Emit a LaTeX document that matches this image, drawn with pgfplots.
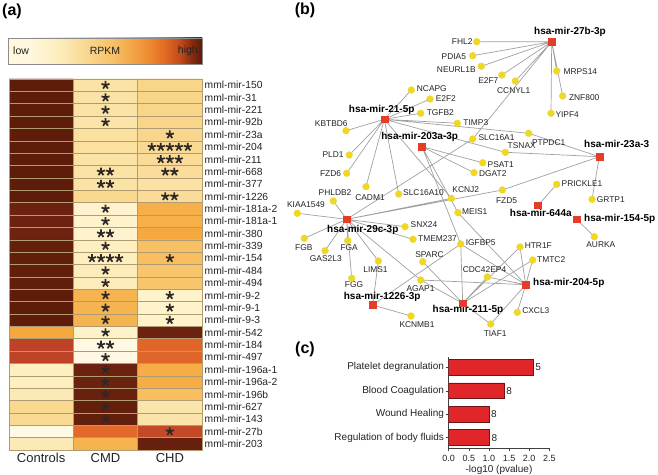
\documentclass[border=0pt]{standalone}
\usepackage{fontspec}
\setmainfont{Liberation Sans}
\usepackage{pgfplots}
\pgfplotsset{compat=1.18}
\usetikzlibrary{plotmarks}

\definecolor{edgegray}{RGB}{160,160,160}
\definecolor{geneyel}{RGB}{238,216,38}
\definecolor{mirred}{RGB}{226,62,40}
\definecolor{barred}{RGB}{224,38,40}
\definecolor{bardark}{RGB}{110,20,20}
\definecolor{gridtan}{RGB}{176,156,112}
\definecolor{stargray}{RGB}{45,40,38}
\definecolor{txt}{RGB}{35,35,35}
\definecolor{sA}{RGB}{255,248,222}
\definecolor{sB}{RGB}{253,236,186}
\definecolor{sC}{RGB}{249,212,138}
\definecolor{sD}{RGB}{247,196,106}
\definecolor{sE}{RGB}{244,168,74}
\definecolor{sF}{RGB}{238,136,48}
\definecolor{sG}{RGB}{224,106,34}
\definecolor{sH}{RGB}{192,74,26}
\definecolor{sI}{RGB}{142,48,16}
\definecolor{sJ}{RGB}{90,26,8}

\newcommand\gf{\fontsize{8.4}{9}\selectfont}
\newcommand\mf{\fontsize{10}{11}\selectfont\bfseries}
\tikzset{gl/.style={anchor=center, inner sep=0pt, text=txt, font=\gf},
         ml/.style={anchor=center, inner sep=0pt, text=black, font=\mf}}

\begin{document}
\begin{tikzpicture}
\useasboundingbox (0pt,0pt) rectangle (658pt,474pt);

% panel labels
\node[font=\fontsize{16}{16}\selectfont\bfseries, inner sep=0pt] at (12pt,463pt) {(a)};
\node[font=\fontsize{16}{16}\selectfont\bfseries, inner sep=0pt] at (305pt,464pt) {(b)};
\node[font=\fontsize{16}{16}\selectfont\bfseries, inner sep=0pt] at (305pt,125pt) {(c)};

% colour key (piecewise linear gradient)
\fill[sA] (8pt,410pt) rectangle (30.3pt,436pt);
\shade[left color=sA, right color=sB] (30pt,410pt) rectangle (60.3pt,436pt);
\shade[left color=sB, right color=sC] (60pt,410pt) rectangle (90.3pt,436pt);
\shade[left color=sC, right color=sD] (90pt,410pt) rectangle (110.3pt,436pt);
\shade[left color=sD, right color=sE] (110pt,410pt) rectangle (130.3pt,436pt);
\shade[left color=sE, right color=sF] (130pt,410pt) rectangle (150.3pt,436pt);
\shade[left color=sF, right color=sG] (150pt,410pt) rectangle (165.3pt,436pt);
\shade[left color=sG, right color=sH] (165pt,410pt) rectangle (180.3pt,436pt);
\shade[left color=sH, right color=sI] (180pt,410pt) rectangle (190.3pt,436pt);
\shade[left color=sI, right color=sJ] (190pt,410pt) rectangle (202pt,436pt);
\draw[black!45, line width=0.5pt] (8pt,410pt) rectangle (202pt,436pt);
\node[anchor=west, inner sep=0pt, text=txt, font=\fontsize{10.5}{11}\selectfont] at (13pt,423pt) {low};
\node[anchor=center, inner sep=0pt, text=txt, font=\fontsize{10.5}{11}\selectfont] at (105pt,423pt) {RPKM};
\node[anchor=east, inner sep=0pt, text=txt, font=\fontsize{10.5}{11}\selectfont] at (198pt,423pt) {high};

% ---------------- heatmap (a) ----------------
\begin{axis}[
  at={(9pt,24pt)}, anchor=south west,
  width=193pt, height=371pt, scale only axis,
  xmin=-0.5, xmax=2.5, ymin=-29.5, ymax=0.5,
  colormap={rpkmmap}{rgb255(0cm)=(255,250,235); rgb255(12cm)=(254,242,200); rgb255(25cm)=(251,227,166); rgb255(35cm)=(249,213,138); rgb255(45cm)=(248,192,100); rgb255(55cm)=(245,168,62); rgb255(65cm)=(235,128,45); rgb255(72cm)=(222,96,40); rgb255(82cm)=(190,67,38); rgb255(92cm)=(112,36,18); rgb255(100cm)=(94,29,10)},
  point meta min=0, point meta max=1,
  xtick={0,1,2}, xticklabels={Controls,CMD,CHD},
  ytick={0,-1,...,-29},
  yticklabels={mml-mir-150,mml-mir-31,mml-mir-221,mml-mir-92b,mml-mir-23a,mml-mir-204,mml-mir-211,mml-mir-668,mml-mir-377,mml-mir-1226,mml-mir-181a-2,mml-mir-181a-1,mml-mir-380,mml-mir-339,mml-mir-154,mml-mir-484,mml-mir-494,mml-mir-9-2,mml-mir-9-1,mml-mir-9-3,mml-mir-542,mml-mir-184,mml-mir-497,mml-mir-196a-1,mml-mir-196a-2,mml-mir-196b,mml-mir-627,mml-mir-143,mml-mir-27b,mml-mir-203},
  yticklabel pos=right,
  major tick length=0pt, minor tick length=0pt,
  minor xtick={0.5,1.5}, minor ytick={-0.5,-1.5,...,-28.5},
  xminorgrids, yminorgrids,
  minor grid style={gridtan, line width=0.5pt},
  axis line style={gridtan, line width=0.6pt},
  axis on top,
  xticklabel style={font=\fontsize{13}{13}\selectfont, text=txt},
  yticklabel style={font=\fontsize{10.3}{11}\selectfont, text=txt, inner sep=2.5pt},
]
\addplot[matrix plot*, mesh/cols=3, point meta=explicit] table[meta=v] {
x y v
0 0 1.00
1 0 0.25
2 0 0.35
0 -1 1.00
1 -1 0.25
2 -1 0.35
0 -2 1.00
1 -2 0.25
2 -2 0.35
0 -3 1.00
1 -3 0.24
2 -3 0.35
0 -4 1.00
1 -4 0.27
2 -4 0.34
0 -5 1.00
1 -5 0.27
2 -5 0.32
0 -6 1.00
1 -6 0.25
2 -6 0.30
0 -7 1.00
1 -7 0.25
2 -7 0.29
0 -8 1.00
1 -8 0.25
2 -8 0.26
0 -9 1.00
1 -9 0.33
2 -9 0.30
0 -10 0.94
1 -10 0.10
2 -10 0.52
0 -11 0.94
1 -11 0.11
2 -11 0.52
0 -12 0.93
1 -12 0.10
2 -12 0.55
0 -13 0.97
1 -13 0.15
2 -13 0.45
0 -14 0.99
1 -14 0.15
2 -14 0.46
0 -15 0.99
1 -15 0.17
2 -15 0.43
0 -16 0.99
1 -16 0.17
2 -16 0.43
0 -17 1.00
1 -17 0.50
2 -17 0.11
0 -18 1.00
1 -18 0.50
2 -18 0.11
0 -19 1.00
1 -19 0.50
2 -19 0.11
0 -20 0.55
1 -20 0.12
2 -20 0.94
0 -21 0.82
1 -21 0.03
2 -21 0.71
0 -22 0.82
1 -22 0.03
2 -22 0.71
0 -23 0.15
1 -23 0.94
2 -23 0.53
0 -24 0.15
1 -24 0.94
2 -24 0.53
0 -25 0.19
1 -25 0.95
2 -25 0.46
0 -26 0.33
1 -26 0.98
2 -26 0.23
0 -27 0.32
1 -27 0.98
2 -27 0.24
0 -28 0.03
1 -28 0.70
2 -28 0.80
0 -29 0.19
1 -29 0.50
2 -29 0.96
};
% significance stars
\addplot[only marks, mark=star, mark size=4.2pt, color=stargray, mark options={line width=1.7pt}] coordinates {
(1,0) (1,-1) (1,-2) (1,-3) (1,-10) (1,-11) (1,-13) (1,-15) (1,-16) (1,-17) (1,-18) (1,-19) (1,-20) (1,-22) (1,-23) (1,-24) (1,-25) (1,-26) (1,-27)
(0.93,-7) (1.07,-7) (0.93,-8) (1.07,-8) (0.93,-12) (1.07,-12) (0.93,-21) (1.07,-21)
(0.79,-14) (0.93,-14) (1.07,-14) (1.21,-14)
(2,-4) (2,-14) (2,-17) (2,-18) (2,-19) (2,-28)
(1.93,-7) (2.07,-7) (1.93,-9) (2.07,-9)
(1.86,-6) (2,-6) (2.14,-6)
(1.72,-5) (1.86,-5) (2,-5) (2.14,-5) (2.28,-5)
};
\end{axis}

% ---------------- bar chart (c) ----------------
\begin{axis}[
  at={(448.7pt,25.7pt)}, anchor=south west,
  width=100.6pt, height=91.6pt, scale only axis,
  xbar, bar width=0.68,
  xmin=0, xmax=2.5, ymin=-3.45, ymax=0.45,
  axis x line*=bottom, axis y line*=left,
  axis line style={-, black!75, line width=0.6pt},
  xtick={0,0.5,...,2.5},
  ytick={0,-1,-2,-3},
  yticklabels={Platelet degranulation,Blood Coagulation,Wound Healing,Regulation of body fluids},
  tick align=outside, major tick length=3pt,
  tick style={black!75, line width=0.5pt},
  xticklabel style={font=\fontsize{9}{10}\selectfont, text=txt, /pgf/number format/.cd, fixed, fixed zerofill, precision=1, assume math mode=true},
  yticklabel style={font=\fontsize{10}{11}\selectfont, text=txt, inner sep=1.5pt},
  xlabel={-log10 (pvalue)},
  xlabel style={font=\fontsize{10}{11}\selectfont, text=txt, inner sep=1pt},
  nodes near coords, point meta=explicit symbolic,
  nodes near coords style={font=\fontsize{10}{11}\selectfont, text=txt, anchor=west, inner sep=2pt},
]
\addplot[fill=barred, draw=bardark, line width=0.5pt] coordinates {(2.10,0) [5] (1.38,-1) [8] (1.00,-2) [8] (1.01,-3) [8]};
\end{axis}

% ---------------- network (b) ----------------
\begin{axis}[
  at={(0pt,0pt)}, anchor=south west,
  width=658pt, height=474pt, scale only axis,
  xmin=0, xmax=658, ymin=-474, ymax=0,
  hide axis, clip=false,
]
% edges: each hub to its targets
\addplot[edgegray, line width=0.7pt, mark=none] coordinates {(551.7,-41.7) (476.7,-41.7) (551.7,-41.7) (472.7,-55.7) (551.7,-41.7) (481.3,-66.3) (551.7,-41.7) (502,-75) (551.7,-41.7) (515.3,-81) (551.7,-41.7) (472.7,-139) (551.7,-41.7) (556.7,-71) (551.7,-41.7) (562.7,-96) (551.7,-41.7) (551,-113.3)};
\addplot[edgegray, line width=0.7pt, mark=none] coordinates {(384.3,-119.3) (411.3,-90) (384.3,-119.3) (430,-99) (384.3,-119.3) (420.7,-113.3) (384.3,-119.3) (346,-130.7) (384.3,-119.3) (457.3,-123.3) (384.3,-119.3) (528.7,-133.3) (384.3,-119.3) (505.3,-152.3) (384.3,-119.3) (349.3,-155) (384.3,-119.3) (346.7,-173.3) (384.3,-119.3) (366,-186.7) (384.3,-119.3) (398.7,-194) (384.3,-119.3) (451.3,-198.3)};
\addplot[edgegray, line width=0.7pt, mark=none] coordinates {(422,-146.7) (482.7,-162.7) (422,-146.7) (474,-172.7) (422,-146.7) (458,-212.7) (422,-146.7) (460.7,-244)};
\addplot[edgegray, line width=0.7pt, mark=none] coordinates {(599.3,-156.7) (528.7,-133.3) (599.3,-156.7) (505.3,-152.3) (599.3,-156.7) (502.3,-190) (599.3,-156.7) (592,-199.3)};
\addplot[edgegray, line width=0.7pt, mark=none] coordinates {(538,-205.3) (556.7,-184.3)};
\addplot[edgegray, line width=0.7pt, mark=none] coordinates {(576.7,-219.3) (594.3,-236.7)};
\addplot[edgegray, line width=0.7pt, mark=none] coordinates {(346.7,-219.3) (333.3,-201) (346.7,-219.3) (297.3,-213.3) (346.7,-219.3) (304.3,-238.3) (346.7,-219.3) (325,-250.7) (346.7,-219.3) (347.7,-240.7) (346.7,-219.3) (351.7,-278.3) (346.7,-219.3) (405,-226.7) (346.7,-219.3) (413,-239.3) (346.7,-219.3) (378.3,-261) (346.7,-219.3) (472.7,-139) (346.7,-219.3) (451.3,-198.3) (346.7,-219.3) (502.3,-190) (346.7,-219.3) (420.7,-280)};
\addplot[edgegray, line width=0.7pt, mark=none] coordinates {(372.7,-305) (378.3,-261) (372.7,-305) (411,-316) (372.7,-305) (460.7,-244)};
\addplot[edgegray, line width=0.7pt, mark=none] coordinates {(462.7,-303.3) (460.7,-244) (462.7,-303.3) (422.7,-261.7) (462.7,-303.3) (420.7,-280) (462.7,-303.3) (487.3,-277) (462.7,-303.3) (520,-247) (462.7,-303.3) (532.7,-260) (462.7,-303.3) (490.7,-324)};
\addplot[edgegray, line width=0.7pt, mark=none] coordinates {(525.7,-284.7) (458,-212.7) (525.7,-284.7) (460.7,-244) (525.7,-284.7) (520,-247) (525.7,-284.7) (532.7,-260) (525.7,-284.7) (487.3,-277) (525.7,-284.7) (420.7,-280) (525.7,-284.7) (517.3,-312.3) (525.7,-284.7) (490.7,-324)};
% gene nodes
\addplot[only marks, mark=*, mark size=3.4pt, color=geneyel, mark options={draw=geneyel, fill=geneyel}] coordinates {
(476.7,-41.7) (472.7,-55.7) (481.3,-66.3) (502,-75) (515.3,-81) (556.7,-71) (562.7,-96) (551,-113.3)
(411.3,-90) (430,-99) (420.7,-113.3) (346,-130.7) (457.3,-123.3) (472.7,-139) (528.7,-133.3) (505.3,-152.3)
(349.3,-155) (482.7,-162.7) (346.7,-173.3) (474,-172.7) (366,-186.7) (333.3,-201) (398.7,-194) (451.3,-198.3)
(502.3,-190) (556.7,-184.3) (592,-199.3) (458,-212.7) (297.3,-213.3) (405,-226.7) (413,-239.3) (460.7,-244)
(304.3,-238.3) (347.7,-240.7) (325,-250.7) (520,-247) (532.7,-260) (422.7,-261.7) (378.3,-261) (487.3,-277)
(351.7,-278.3) (420.7,-280) (517.3,-312.3) (411,-316) (490.7,-324) (594.3,-236.7)
};
% miRNA nodes
\addplot[only marks, mark=square*, mark size=3.4pt, color=mirred, mark options={draw=mirred, fill=mirred}] coordinates {
(551.7,-41.7) (384.3,-119.3) (422,-146.7) (599.3,-156.7) (538,-205.3) (576.7,-219.3) (346.7,-219.3) (525.7,-284.7) (372.7,-305) (462.7,-303.3)
};
% miRNA labels
\node[ml] at (axis cs:570,-32.3) {hsa-mir-27b-3p};
\node[ml] at (axis cs:381.7,-110) {hsa-mir-21-5p};
\node[ml] at (axis cs:419.7,-136.7) {hsa-mir-203a-3p};
\node[ml] at (axis cs:616.7,-144) {hsa-mir-23a-3};
\node[ml] at (axis cs:540.8,-213.3) {hsa-mir-644a};
\node[ml] at (axis cs:619.7,-218.7) {hsa-mir-154-5p};
\node[ml] at (axis cs:362.8,-230) {hsa-mir-29c-3p};
\node[ml] at (axis cs:568.8,-283.3) {hsa-mir-204-5p};
\node[ml] at (axis cs:382.2,-296.7) {hsa-mir-1226-3p};
\node[ml] at (axis cs:468,-310) {hsa-mir-211-5p};
% gene labels
\node[gl] at (axis cs:462.2,-41.7) {FHL2};
\node[gl] at (axis cs:453.8,-56.3) {PDIA5};
\node[gl] at (axis cs:456.3,-69.3) {NEURL1B};
\node[gl] at (axis cs:488.3,-80.7) {E2F7};
\node[gl] at (axis cs:513.7,-90.7) {CCNYL1};
\node[gl] at (axis cs:580.3,-71.7) {MRPS14};
\node[gl] at (axis cs:584.2,-97.3) {ZNF800};
\node[gl] at (axis cs:567.2,-115) {YIPF4};
\node[gl] at (axis cs:431.8,-89) {NCAPG};
\node[gl] at (axis cs:445.8,-98.3) {E2F2};
\node[gl] at (axis cs:440.3,-112.7) {TGFB2};
\node[gl] at (axis cs:331.3,-124) {KBTBD6};
\node[gl] at (axis cs:475.8,-122.3) {TIMP3};
\node[gl] at (axis cs:496.5,-137.3) {SLC16A1};
\node[gl] at (axis cs:548.7,-142.7) {PTPDC1};
\node[gl] at (axis cs:521.7,-145.7) {TSNAX};
\node[gl] at (axis cs:333,-155) {PLD1};
\node[gl] at (axis cs:500.7,-164.3) {PSAT1};
\node[gl] at (axis cs:330.5,-174) {FZD6};
\node[gl] at (axis cs:492.8,-173.3) {DGAT2};
\node[gl] at (axis cs:370,-197.3) {CADM1};
\node[gl] at (axis cs:335,-192.7) {PHLDB2};
\node[gl] at (axis cs:423.5,-192.7) {SLC16A10};
\node[gl] at (axis cs:465.7,-190) {KCNJ2};
\node[gl] at (axis cs:506.5,-200.7) {FZD5};
\node[gl] at (axis cs:582,-183.3) {PRICKLE1};
\node[gl] at (axis cs:610.8,-199.3) {GRTP1};
\node[gl] at (axis cs:474.8,-211.7) {MEIS1};
\node[gl] at (axis cs:306,-204.3) {KIAA1549};
\node[gl] at (axis cs:424,-225) {SNX24};
\node[gl] at (axis cs:437.5,-238.3) {TMEM237};
\node[gl] at (axis cs:480.7,-242.7) {IGFBP5};
\node[gl] at (axis cs:303.8,-247.3) {FGB};
\node[gl] at (axis cs:349.2,-247.3) {FGA};
\node[gl] at (axis cs:325.8,-258.3) {GAS2L3};
\node[gl] at (axis cs:538.3,-245.7) {HTR1F};
\node[gl] at (axis cs:551.2,-259.3) {TMTC2};
\node[gl] at (axis cs:429.5,-255) {SPARC};
\node[gl] at (axis cs:375.5,-270) {LIMS1};
\node[gl] at (axis cs:484.5,-269.3) {CDC42EP4};
\node[gl] at (axis cs:354,-285) {FGG};
\node[gl] at (axis cs:420.5,-288.3) {AGAP1};
\node[gl] at (axis cs:535.8,-310.7) {CXCL3};
\node[gl] at (axis cs:417,-325) {KCNMB1};
\node[gl] at (axis cs:495.2,-333.3) {TIAF1};
\node[gl] at (axis cs:600.8,-245) {AURKA};
\end{axis}
\end{tikzpicture}
\end{document}
